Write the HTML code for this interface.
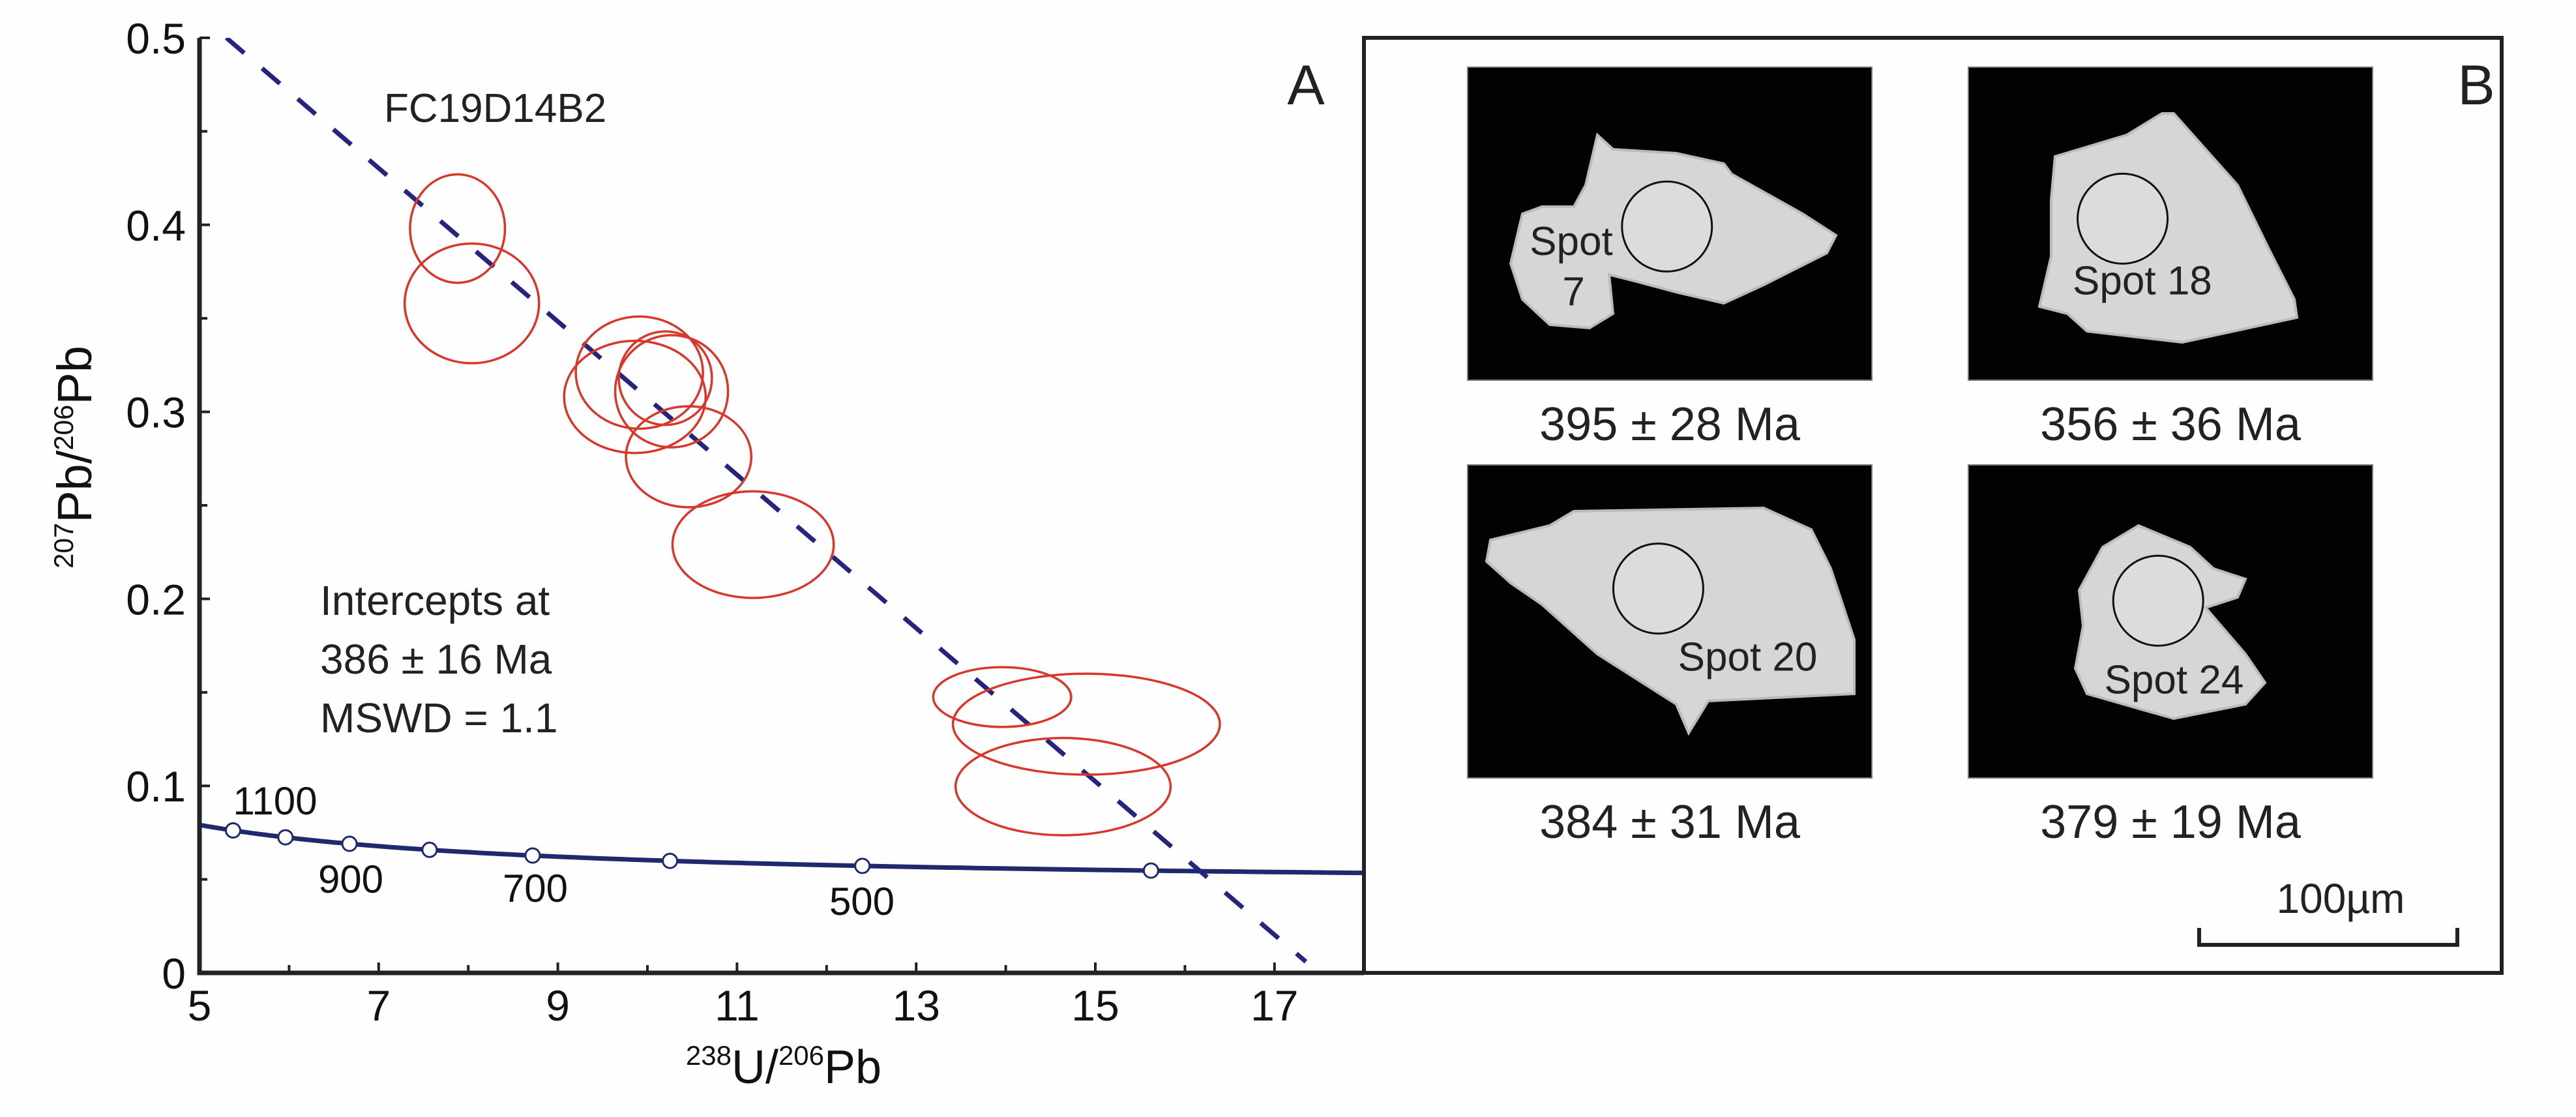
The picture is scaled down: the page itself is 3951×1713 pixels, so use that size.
<!DOCTYPE html>
<html><head><meta charset="utf-8"><style>
html,body{margin:0;padding:0;background:#fff;}
svg{display:block;font-family:"Liberation Sans",sans-serif;}
</style></head><body>
<svg id="fig" xmlns="http://www.w3.org/2000/svg" width="3951" height="1713" viewBox="0 0 3951 1713">
<rect x="0" y="0" width="3951" height="1713" fill="#fefefe"/>
<g id="panelA"></g>
<g id="panelB"></g>
</svg>
<script>
// ---- chart data ----
const xTicks = [5,7,9,11,13,15,17];
const xMinor = [6,8,10,12,14,16];
const yTicks = [0,0.1,0.2,0.3,0.4,0.5];
const yTickLabels = ["0","0.1","0.2","0.3","0.4","0.5"];
const yMinor = [0.05,0.15,0.25,0.35,0.45];
const ellX  = [7.88,8.04,9.91,9.86,10.2,10.27,10.46,11.18,13.96,14.9,14.64];
const ellY  = [0.398,0.358,0.321,0.308,0.318,0.311,0.276,0.229,0.1475,0.133,0.0996];
const ellRX = [0.53,0.75,0.71,0.79,0.52,0.63,0.70,0.90,0.77,1.49,1.20];
const ellRY = [0.029,0.032,0.030,0.030,0.025,0.030,0.027,0.0285,0.016,0.027,0.026];
const markerAges = [1100,1000,900,800,700,600,500,400];
const ageLabels = ["1100","900","700","500"];
const ageLabelAges = [1100,900,700,500];
const discordStart = [5.3,0.5];
const discordEnd = [17.35,0.006];

// ---- axes ----
const X0=306, PX=137.4, Y0=1492, PY=2868;
const sx = v => X0 + (v-5)*PX;
const sy = v => Y0 - v*PY;
const L238=1.55125e-10, L235=9.8485e-10;
const conc = t => { const a=Math.exp(L238*t*1e6)-1, b=Math.exp(L235*t*1e6)-1; return [1/a, b/a/137.88]; };

const NS="http://www.w3.org/2000/svg";
function mk(tag, attrs, parent, text){
  const e=document.createElementNS(NS,tag);
  for(const k in attrs) e.setAttribute(k,attrs[k]);
  if(text!==undefined) e.textContent=text;
  parent.appendChild(e); return e;
}
const A=document.getElementById('panelA');

const defs=mk('defs',{},A);
const cp=mk('clipPath',{id:'clipA'},defs);
mk('rect',{x:X0,y:58,width:2092-X0,height:Y0-58},cp);

let d='';
for(let t=1180;t>=340;t-=5){const p=conc(t);d+=(d?'L':'M')+sx(p[0]).toFixed(1)+','+sy(p[1]).toFixed(1);}
const curve=mk('path',{d:d,fill:'none',stroke:'#1f2a6e','stroke-width':7,'clip-path':'url(#clipA)'},A);



const dl=mk('line',{x1:sx(discordStart[0]),y1:sy(discordStart[1]),x2:sx(discordEnd[0]),y2:sy(discordEnd[1]),stroke:'#25257f','stroke-width':7,'stroke-dasharray':'36,36','clip-path':'url(#clipA)'},A);



for(let i=0;i<ellX.length;i++){
  const e=mk('ellipse',{cx:sx(ellX[i]),cy:sy(ellY[i]),rx:ellRX[i]*PX,ry:ellRY[i]*PY,fill:'none',stroke:'#d8372a','stroke-width':3.5},A);
  
  
}
for(const t of markerAges){
  const p=conc(t);
  const c=mk('circle',{cx:sx(p[0]),cy:sy(p[1]),r:11,fill:'#fff',stroke:'#1f2a6e','stroke-width':3},A);
  
  
}
const ageLabelPos=[[422,1249],[538,1369],[821,1383],[1322,1403]];
for(let i=0;i<ageLabels.length;i++){
  const t=mk('text',{x:ageLabelPos[i][0],y:ageLabelPos[i][1],'font-size':60,'text-anchor':'middle',fill:'#111'},A,ageLabels[i]);
  
  
}

const fr=mk('path',{d:`M${X0},58 L${X0},${Y0} L2092,${Y0}`,fill:'none',stroke:'#222','stroke-width':7},A);


for(const v of xTicks){
  mk('line',{x1:sx(v),y1:Y0,x2:sx(v),y2:Y0-16,stroke:'#222','stroke-width':4},A);
  const t=mk('text',{x:sx(v),y:1565,'font-size':66,'text-anchor':'middle',fill:'#111'},A,String(v));
  
  
}
for(const v of xMinor) mk('line',{x1:sx(v),y1:Y0,x2:sx(v),y2:Y0-12,stroke:'#222','stroke-width':4},A);
for(let i=0;i<yTicks.length;i++){
  mk('line',{x1:X0,y1:sy(yTicks[i]),x2:X0+16,y2:sy(yTicks[i]),stroke:'#222','stroke-width':4},A);
  const t=mk('text',{x:285,y:sy(yTicks[i])+24,'font-size':66,'text-anchor':'end',fill:'#111'},A,yTickLabels[i]);
  
  
}
for(const v of yMinor) mk('line',{x1:X0,y1:sy(v),x2:X0+12,y2:sy(v),stroke:'#222','stroke-width':4},A);

const xt=mk('text',{x:1202,y:1661,'font-size':72,'text-anchor':'middle',fill:'#111'},A);
xt.innerHTML='<tspan font-size="42" dy="-28">238</tspan><tspan dy="28">U/</tspan><tspan font-size="42" dy="-28">206</tspan><tspan dy="28">Pb</tspan>';


const yt=mk('text',{x:0,y:0,'font-size':74,'text-anchor':'middle',fill:'#111',transform:'translate(140,701) rotate(-90)'},A);
yt.innerHTML='<tspan font-size="42" dy="-28">207</tspan><tspan dy="28">Pb/</tspan><tspan font-size="42" dy="-28">206</tspan><tspan dy="28">Pb</tspan>';



const sn=mk('text',{x:589,y:187,'font-size':62,fill:'#222'},A,'FC19D14B2');


const pa=mk('text',{x:2003,y:160,'font-size':86,'text-anchor':'middle',fill:'#222'},A,'A');


const itx=['Intercepts at','386 ± 16 Ma','MSWD = 1.1'];
for(let i=0;i<3;i++){
  const t=mk('text',{x:491,y:943+i*90,'font-size':64,fill:'#222'},A,itx[i]);
  
  
}

// ---- panel B ----
const B=document.getElementById('panelB');
const bf=mk('rect',{x:2092,y:58,width:3837-2092,height:Y0-58,fill:'none',stroke:'#222','stroke-width':6},B);


const pb=mk('text',{x:3798,y:160,'font-size':86,'text-anchor':'middle',fill:'#222'},B,'B');



const boxes=[[2251,103],[3019,103],[2251,713],[3019,713]];
const ages=['395 ± 28 Ma','356 ± 36 Ma','384 ± 31 Ma','379 ± 19 Ma'];
const grains=[
 {o:[166,95],pts:[[330,190],[350,210],[430,215],[490,230],[500,245],[590,300],[632,330],[620,355],[540,400],[490,425],[430,410],[380,395],[345,385],[350,440],[320,460],[270,455],[235,420],[220,370],[235,300],[260,290],[300,290],[315,260]],c:[418,318],lab:[['Spot',297,358],['7',300,428]]},
 {o:[800,95],pts:[[910,220],[1000,190],[1045,160],[1060,160],[1140,260],[1180,350],[1212,420],[1215,445],[1070,480],[950,465],[925,440],[890,430],[905,360],[905,280]],c:[995,307],lab:[['Spot 18',1020,413]]},
 {o:[166,655],pts:[[195,760],[270,740],[300,720],[540,715],[600,745],[625,800],[655,900],[655,975],[470,985],[445,1030],[430,990],[330,920],[260,850],[220,820],[190,790]],c:[407,828],lab:[['Spot 20',520,943]]},
 {o:[800,655],pts:[[1015,740],[1080,770],[1110,800],[1150,815],[1140,840],[1100,855],[1150,920],[1175,960],[1150,990],[1060,1010],[950,975],[935,940],[945,880],[940,830],[970,770]],c:[1040,845],lab:[['Spot 24',1060,975]]}
];
const KX=620/511, KY=480/438;
for(let i=0;i<4;i++){
  const [bx,by]=boxes[i], g=grains[i];
  const tx=p=>bx+(p[0]-g.o[0])*KX, ty=p=>by+(p[1]-g.o[1])*KY;
  const r=mk('rect',{x:bx,y:by,width:620,height:480,fill:'#030101',stroke:'#777','stroke-width':2},B);
  
  
  const poly=mk('polygon',{points:g.pts.map(p=>tx(p).toFixed(0)+','+ty(p).toFixed(0)).join(' '),fill:'#d6d6d6',stroke:'#bbb','stroke-width':4},B);
  
  
  const c=mk('circle',{cx:tx(g.c),cy:ty(g.c),r:69,fill:'#dcdcdc',stroke:'#111','stroke-width':3},B);
  
  
  for(const L of g.lab){
    const t=mk('text',{x:tx([L[1],0]),y:ty([0,L[2]]),'font-size':62,'text-anchor':'middle',fill:'#222'},B,L[0]);
    
    
  }
  const a=mk('text',{x:bx+310,y:by+572,'font-size':72,'text-anchor':'middle',fill:'#222'},B,ages[i]);
  
  
}
const sb=mk('path',{d:'M3373,1423 L3373,1449 L3769,1449 L3769,1423',fill:'none',stroke:'#222','stroke-width':6},B);


const st=mk('text',{x:3590,y:1400,'font-size':64,'text-anchor':'middle',fill:'#222'},B,'100µm');


</script>
</body></html>
